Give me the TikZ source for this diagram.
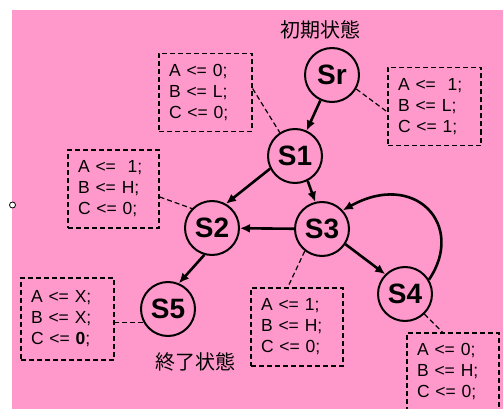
\documentclass[tikz,border=0pt]{standalone}
\usepackage{fontspec}
\setmainfont{Liberation Sans}
\newfontfamily\jpfont{Noto Sans CJK JP}
\usetikzlibrary{arrows.meta,calc}
\definecolor{bgpink}{RGB}{255,153,204}
\tikzset{
  st/.style={circle,draw,line width=2pt,minimum size=54pt,inner sep=0pt,font=\fontsize{28}{28}\selectfont\bfseries},
  tr/.style={line width=2.6pt,-{Latex[length=10pt,width=9pt]}},
  asg/.style={draw,line width=1.2pt,dash pattern=on 5pt off 3pt,inner xsep=10pt,inner ysep=0pt,text width=73pt,align=left,minimum height=78pt,font=\fontsize{17.5}{21}\selectfont},
  dl/.style={line width=1.2pt,dash pattern=on 5pt off 3pt},
  jp/.style={font=\jpfont\fontsize{20}{20}\selectfont}
}
\begin{document}
\begin{tikzpicture}[x=1pt,y=-1pt]
\useasboundingbox (0,0) rectangle (503,409);
\fill[bgpink] (12,10) rectangle (503,409);
\draw[line width=0.8pt,fill=white] (12.5,205) circle (3pt);

\node[jp] (init) at (320,30) {初期状態};
\node[jp] (fin) at (195,362) {終了状態};

\node[st] (Sr) at (332,75) {Sr};
\node[st] (S1) at (295,156) {S1};
\node[st] (S2) at (212,228) {S2};
\node[st] (S3) at (322,229) {S3};
\node[st] (S4) at (405,294) {S4};
\node[st] (S5) at (168,309) {S5};

\node[asg] (b1) at (205.5,92.5) {A <= 0;\\B <= L;\\C <= 0;};
\node[asg] (b2) at (434.5,106.5) {A <=\ \ 1;\\B <= L;\\C <= 1;};
\node[asg,text width=71pt] (b3) at (113.5,189) {A <=\ \ 1;\\B <= H;\\C <= 0;};
\node[asg,minimum height=82pt] (b4) at (67.5,319) {A <= X;\\B <= X;\\C <= \textbf{0};};
\node[asg,text width=72pt] (b5) at (297,327) {A <= 1;\\B <= H;\\C <= 0;};
\node[asg,text width=72pt] (b6) at (453,372) {A <= 0;\\B <= H;\\C <= 0;};

\draw[tr] (Sr) -- (S1);
\draw[tr] (S1.207) -- (S2.60);
\draw[tr] (S1.-63) -- (S3.104);
\draw[tr] (S3) -- (S2);
\draw[tr] (S2.254) -- (S5.67);
\draw[tr] (S3.-33) -- (S4.135);
\draw[tr] (S4.31) .. controls (466,225) and (415,170) .. (S3.42);

\draw[dl] ($(b1.north east)!0.45!(b1.south east)$) -- (S1.123);
\draw[dl] (Sr.-30) -- ($(b2.north west)!0.57!(b2.south west)$);
\draw[dl] ($(b3.north east)!0.6!(b3.south east)$) -- (S2.136);
\draw[dl] (S5.208) -- (S5.208 -| b4.east);
\draw[dl] (S3.232) -- ($(b5.north west)!0.4!(b5.north east)$);
\draw[dl] (S4.-46) -- ($(b6.north west)!0.39!(b6.north east)$);
\end{tikzpicture}
\end{document}
